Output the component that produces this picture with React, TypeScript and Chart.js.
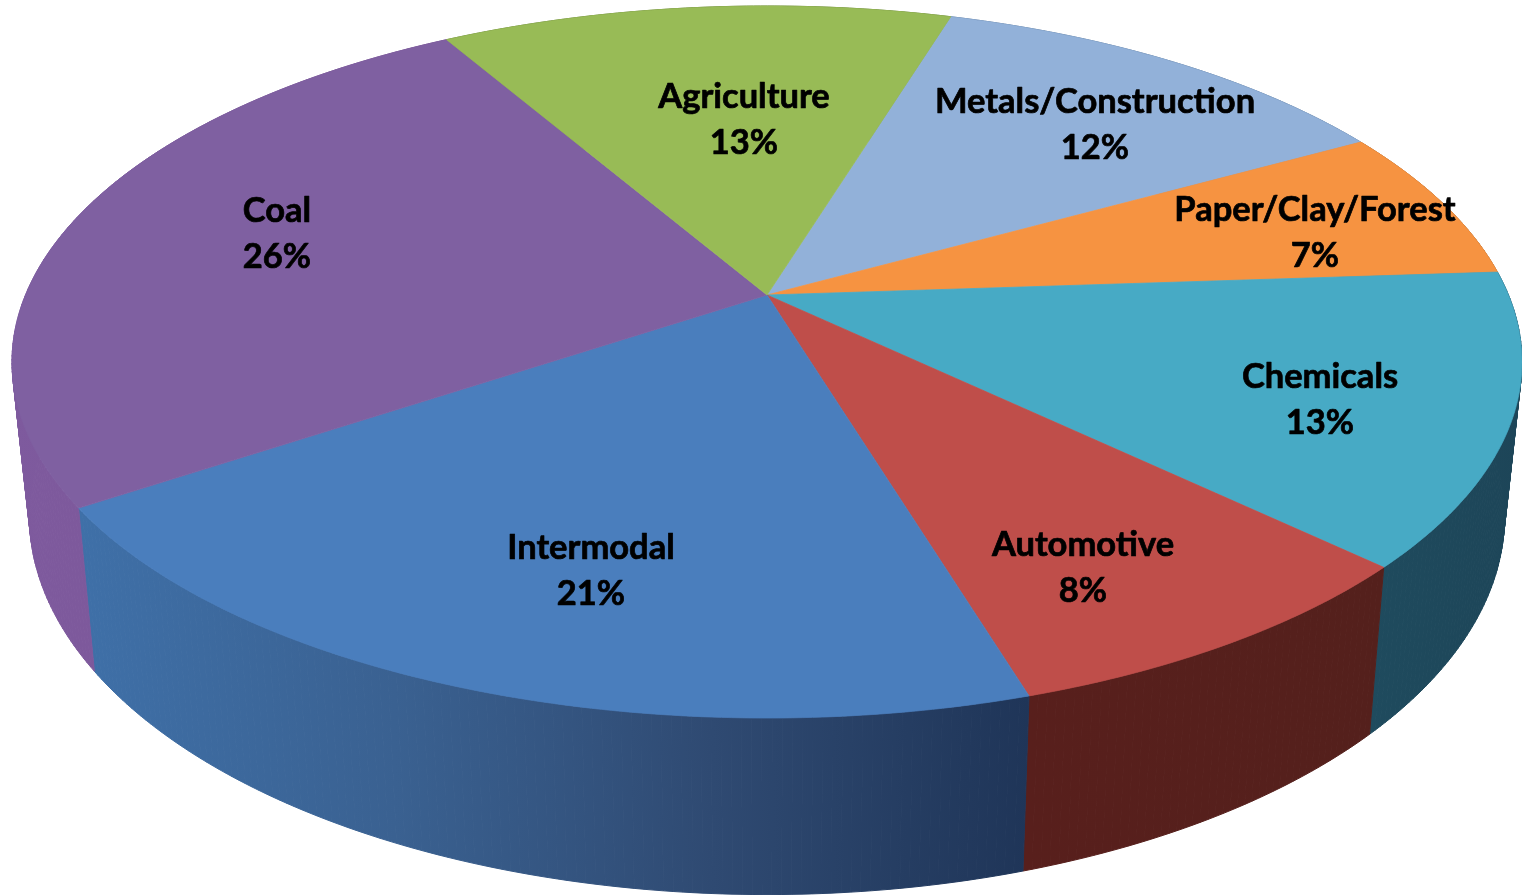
import React, { useEffect, useRef } from "react";
import { Chart, registerables } from "chart.js";

Chart.register(...registerables);

const categories = ["Metals/Construction", "Paper/Clay/Forest", "Chemicals", "Automotive", "Intermodal", "Coal", "Agriculture"];
// slice sizes as read from the drawn wedges
const shares = [12.2, 7.0, 13.2, 8.2, 20.3, 26.0, 13.1];
// percentages as printed on the chart
const printedPercents = ["12%", "7%", "13%", "8%", "21%", "26%", "13%"];

const topColors = ["#92b1d9", "#f69341", "#47aac5", "#bf4e4a", "#4a7ebd", "#7f60a1", "#98bb56"];
const sideStops: string[][] = [
  ["#5a7596", "#5a7596"],
  ["#a4632b", "#a4632b"],
  ["#1f4b5e", "#1d4558"],
  ["#581f1c", "#54201c"],
  ["#3f70a8", "#3a6191", "#2f4a72", "#1f3558"],
  ["#7e5a9e", "#7a5391"],
  ["#66803a", "#66803a"],
];
const labelCenters = [
  [1095, 124],
  [1315, 232],
  [1320, 399],
  [1083, 567],
  [591, 570],
  [277, 233],
  [744, 119],
];

const W = 1522;
const H = 895;
const CX = 767;
const CY = 295;
const A = 741.5;
const B = 343.4;
const K = 0.1882;
const SX = 0.977;
const SY = 1.064;
const BOTTOM_Y = 444.5;

function rimTop(theta: number): [number, number] {
  const u = Math.sin(theta);
  const v = -Math.cos(theta);
  const w = 1 / (1 - K * v);
  return [CX + A * u * w, CY + B * v * w];
}
function rimBottom(theta: number): [number, number] {
  const [x, y] = rimTop(theta);
  return [CX + SX * (x - CX), BOTTOM_Y + SY * (y - CY)];
}

const tiltPlugin = {
  id: "tilt",
  beforeDatasetDraw(chart: any, args: any) {
    const ctx = chart.ctx as CanvasRenderingContext2D;
    const arcs = chart.getDatasetMeta(args.index).data;
    const slices = arcs.map((arc: any, i: number) => {
      const start = arc.startAngle + Math.PI / 2;
      const end = arc.endAngle + Math.PI / 2;
      const n = Math.max(8, Math.ceil((end - start) * 90));
      const thetas: number[] = [];
      for (let j = 0; j <= n; j++) thetas.push(start + ((end - start) * j) / n);
      return { i, thetas, color: arc.options.backgroundColor };
    });
    // walls first: the far parts are then covered by the top face
    slices.forEach(({ i, thetas }: any) => {
      const stops = sideStops[i];
      const pts = thetas.map(rimTop);
      const low = thetas.map(rimBottom);
      const xs = [...pts, ...low].map((p: number[]) => p[0]);
      const g = ctx.createLinearGradient(Math.min(...xs), 0, Math.max(...xs), 0);
      stops.forEach((c: string, s: number) => g.addColorStop(s / (stops.length - 1), c));
      ctx.fillStyle = g;
      ctx.strokeStyle = g;
      ctx.lineWidth = 1;
      for (let j = 0; j + 1 < pts.length; j++) {
        ctx.beginPath();
        ctx.moveTo(pts[j][0], pts[j][1]);
        ctx.lineTo(pts[j + 1][0], pts[j + 1][1]);
        ctx.lineTo(low[j + 1][0], low[j + 1][1]);
        ctx.lineTo(low[j][0], low[j][1]);
        ctx.closePath();
        ctx.fill();
        ctx.stroke();
      }
    });
    slices.forEach(({ thetas, color }: any) => {
      ctx.beginPath();
      ctx.moveTo(CX, CY);
      thetas.forEach((t: number) => {
        const [x, y] = rimTop(t);
        ctx.lineTo(x, y);
      });
      ctx.closePath();
      ctx.fillStyle = color;
      ctx.fill();
      ctx.strokeStyle = color;
      ctx.lineWidth = 0.75;
      ctx.stroke();
    });
    return false;
  },
  afterDraw(chart: any) {
    const ctx = chart.ctx as CanvasRenderingContext2D;
    ctx.save();
    ctx.fillStyle = "#000000";
    ctx.strokeStyle = "#000000";
    ctx.lineWidth = 0.7;
    ctx.lineJoin = "round";
    ctx.font = "700 34.5px Lato";
    ctx.textAlign = "center";
    ctx.textBaseline = "middle";
    (chart.data.labels as string[]).forEach((label, i) => {
      const [x, y] = labelCenters[i];
      ctx.fillText(label, x, y - 22);
      ctx.strokeText(label, x, y - 22);
      ctx.fillText(printedPercents[i], x, y + 23.5);
      ctx.strokeText(printedPercents[i], x, y + 23.5);
    });
    ctx.restore();
  },
};

export default function App() {
  const ref = useRef<HTMLCanvasElement>(null);
  useEffect(() => {
    const chart = new Chart(ref.current!, {
      type: "pie",
      data: {
        labels: categories,
        datasets: [{ data: shares, backgroundColor: topColors, borderWidth: 0 }],
      },
      options: {
        animation: false,
        responsive: false,
        devicePixelRatio: 1,
        rotation: 17,
        plugins: { legend: { display: false }, tooltip: { enabled: false } },
      },
      plugins: [tiltPlugin],
    } as any);
    return () => chart.destroy();
  }, []);
  return (
    <canvas
      ref={ref}
      width={W}
      height={H}
      style={{ position: "absolute", left: 0, top: 0, width: W, height: H, display: "block", background: "#ffffff" }}
    />
  );
}
